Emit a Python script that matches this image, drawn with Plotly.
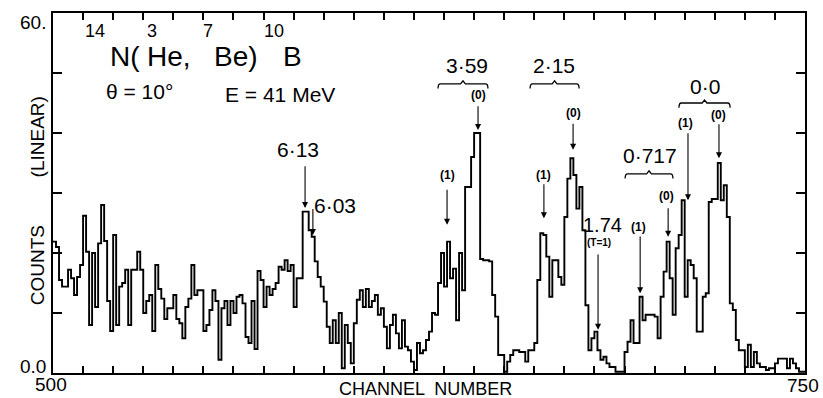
import plotly.graph_objects as go

# Spectrum: counts per channel, channels 500..749 (one value per channel)
channel_start = 500
counts = [
    21.9, 21, 15.5, 14.4, 14.4, 17.2, 15.8, 13, 16, 18,
    26.2, 20.2, 8, 20, 11, 21.6, 28, 22, 12, 7,
    23, 8, 14.4, 15, 17.2, 8, 17.2, 17.2, 20.2, 17.2,
    10, 12, 13, 7, 18, 14, 12.4, 9, 10.8, 10.8,
    13, 9, 8.3, 5.8, 11, 12.4, 18, 13, 13.8, 13.8,
    7, 8, 10.5, 13.8, 12, 2.2, 10.8, 12, 8, 12,
    10, 12.7, 13, 11.6, 6, 5, 12, 4, 17, 15.5,
    11, 14.4, 13, 14, 15, 17.7, 17.2, 18.8, 17, 18,
    11, 15.8, 15.8, 26.9, 26.9, 23.8, 22.7, 18.6, 16, 14.4,
    11.9, 7.7, 5, 8.8, 5, 10, 0.8, 8, 5, 1.6,
    8.3, 12.2, 13.8, 11, 14, 11, 12, 13, 9.7, 10.8,
    7.7, 4.1, 8, 9.7, 6.6, 4.1, 8.8, 4.4, 3.8, 1.9,
    0.5, 5, 3.3, 3.8, 5.5, 6.9, 10, 9.7, 15, 20,
    14.4, 21.9, 15.8, 17.4, 8.8, 20, 13.8, 31, 31, 36,
    40, 40, 19, 18.8, 18.8, 18.6, 13, 9.4, 3, 3,
    0.2, 1.9, 3, 3.8, 3.8, 3.5, 3.5, 1.9, 3.8, 3.8,
    5, 15.5, 23.3, 23, 19.4, 12.7, 18.8, 18.8, 16, 14.7,
    26, 32.4, 35.8, 33, 27.4, 31, 23.8, 11.3, 3.8, 5.8,
    6.9, 3.8, 2.2, 2.7, 1.6, 1, 1, 0.2, 0.2, 0.2,
    3.5, 5.2, 8.8, 5, 5, 12.7, 8.8, 9.7, 9.7, 9.7,
    9.4, 5.8, 12.7, 16.9, 21.9, 15.8, 9.7, 20.8, 23, 28.8,
    12.7, 18.8, 18, 15.8, 6.9, 6.9, 12.7, 13.3, 28.5, 29,
    29, 35, 28.8, 31.3, 26, 11.6, 10.5, 5.5, 3.8, 3.8,
    1, 4.7, 1, 3.5, 1.6, 1, 1, 0.5, 0.8, 0.8,
    1.6, 2.4, 2.4, 2.4, 0.8, 2.4, 1.6, 0.8, 0.2, 0.2,
]
channel_end = channel_start + len(counts)

# Axis end labels
x_range = [500, 750]
y_range = [0, 60]
x_end_labels = ["500", "750"]
y_end_labels = ["0.0", "60."]

# Excitation-energy group labels (MeV): label, label position, bracket span
groups = [
    ("3·59", 637.6, 51.2, 628.0, 644.6, 48.2),
    ("2·15", 666.6, 51.2, 658.6, 674.9, 48.2),
    ("0·717", 698.5, 36.3, 690.2, 706.1, 33.2),
    ("0·0", 716.8, 47.8, 708.1, 725.1, 45.0),
]

# Arrows: channel, tail count, tip count
arrows = [
    (583.8, 34.7, 27.5),   # 6.13
    (586.4, 27.6, 23.0),   # 6.03
    (631.0, 30.8, 24.7),   # 3.59 (1)
    (641.3, 44.7, 40.5),   # 3.59 (0)
    (663.2, 31.7, 25.8),   # 2.15 (1)
    (672.9, 41.8, 37.2),   # 2.15 (0)
    (681.2, 20.0, 7.2),    # 1.74
    (695.2, 23.0, 13.3),   # 0.717 (1)
    (704.5, 27.7, 22.7),   # 0.717 (0)
    (711.1, 40.2, 28.8),   # 0.0 (1)
    (721.4, 41.7, 35.8),   # 0.0 (0)
]

# Small branch labels: text, channel, count
branch_labels = [
    ("(1)", 631.0, 33.0), ("(0)", 641.3, 46.3),
    ("(1)", 662.9, 33.0), ("(0)", 673.2, 43.3),
    ("(1)", 694.5, 24.3), ("(0)", 703.8, 29.5),
    ("(1)", 710.4, 41.7), ("(0)", 721.4, 43.0),
]

FONT = "Liberation Sans"
x_steps = list(range(channel_start, channel_end + 1))
y_steps = counts + [counts[-1]]

fig = go.Figure()
fig.add_trace(go.Scatter(
    x=x_steps, y=y_steps, mode="lines", line_shape="hv",
    line=dict(color="black", width=1.9), hoverinfo="skip", showlegend=False,
))

ann = []


def text(s, x, y, size, bold=False, xanchor="center", yanchor="middle", textangle=0,
         xref="x", yref="y"):
    if bold:
        s = "<b>" + s + "</b>"
    ann.append(dict(x=x, y=y, xref=xref, yref=yref, text=s, showarrow=False,
                    xanchor=xanchor, yanchor=yanchor, textangle=textangle,
                    font=dict(family=FONT, size=size, color="black")))


# Reaction title 14N(3He,7Be)10B with raised mass numbers
SUP_Y, BASE_Y = 57.0, 52.8
text("14", 514.0, SUP_Y, 18)
text("N(", 523.9, BASE_Y, 28)
text("3", 532.9, SUP_Y, 18)
text("He,", 538.4, BASE_Y, 28)
text("7", 551.5, SUP_Y, 18)
text("Be)", 561.0, BASE_Y, 28)
text("10", 573.5, SUP_Y, 18)
text("B", 579.6, BASE_Y, 28)
text("θ = 10°", 528.9, 47.0, 21)
text("E = 41 MeV", 575.5, 46.5, 21)

# Peak energy labels
text("6·13", 581.4, 37.2, 21)
text("6·03", 593.7, 28.0, 21)
text("1.74", 682.8, 24.7, 20)
text("(T=1)", 681.5, 21.8, 10, bold=True)
for lab, lx, ly, *_ in groups:
    text(lab, lx, ly, 21)
for lab, lx, ly in branch_labels:
    text(lab, lx, ly, 12, bold=True)

for cx, y0, y1 in arrows:
    ann.append(dict(x=cx, y=y1, ax=cx, ay=y0, xref="x", yref="y", axref="x", ayref="y",
                    text="", showarrow=True, arrowhead=2, arrowsize=1.1, arrowwidth=1.1,
                    arrowcolor="black", standoff=0))

# Axis end values, placed in the margins
text(y_end_labels[1], -0.006, 0.975, 19, xanchor="right", xref="paper", yref="paper")
text(y_end_labels[0], -0.006, 0.018, 19, xanchor="right", xref="paper", yref="paper")
text(x_end_labels[0], -0.002, -0.031, 19, xref="paper", yref="paper")
text(x_end_labels[1], 0.998, -0.034, 19, xref="paper", yref="paper")
text("CHANNEL  NUMBER", 0.496, -0.044, 18, xref="paper", yref="paper")
text("COUNTS", -0.021, 0.3, 19, textangle=-90, xref="paper", yref="paper")
text("(LINEAR)", -0.021, 0.655, 19, textangle=-90, xref="paper", yref="paper")

# Curly brackets over each doublet
shapes = []
for lab, lx, ly, x0, x1, ym in groups:
    xm = (x0 + x1) / 2
    d = 0.8
    path = (f"M {x0},{ym - 0.8} Q {x0},{ym} {x0 + d},{ym} L {xm - 0.8},{ym} "
            f"L {xm},{ym + 0.5} L {xm + 0.8},{ym} L {x1 - d},{ym} Q {x1},{ym} {x1},{ym - 0.8}")
    shapes.append(dict(type="path", path=path, xref="x", yref="y",
                       line=dict(color="black", width=1.3)))

fig.update_layout(
    width=823, height=398,
    margin=dict(l=53, r=18, t=13, b=25),
    paper_bgcolor="white", plot_bgcolor="white",
    annotations=ann, shapes=shapes, showlegend=False,
    xaxis=dict(range=x_range, tick0=500, dtick=10, ticks="inside", ticklen=7,
               tickwidth=1.5, tickcolor="black", showticklabels=False, showgrid=False,
               zeroline=False, showline=True, linewidth=2, linecolor="black",
               mirror="allticks", fixedrange=True),
    yaxis=dict(range=y_range, tick0=0, dtick=10, ticks="inside", ticklen=9,
               tickwidth=1.5, tickcolor="black", showticklabels=False, showgrid=False,
               zeroline=False, showline=True, linewidth=2, linecolor="black",
               mirror="allticks", fixedrange=True),
)

fig.write_html("out.html")
